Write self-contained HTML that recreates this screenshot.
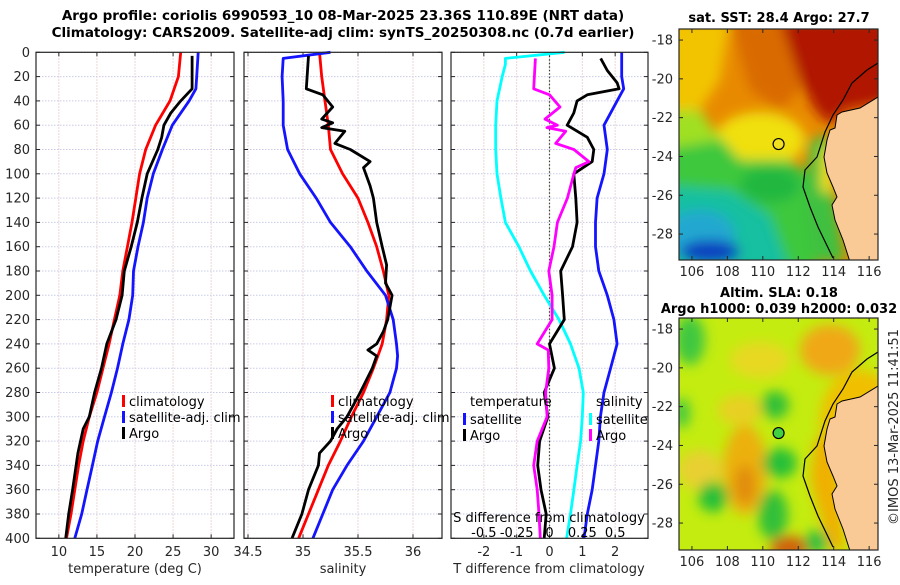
<!DOCTYPE html>
<html><head><meta charset="utf-8">
<style>
html,body{margin:0;padding:0;background:#fff;}
body{width:900px;height:580px;overflow:hidden;font-family:"Liberation Sans","DejaVu Sans",sans-serif;}
svg text{font-family:"DejaVu Sans","Liberation Sans",sans-serif;}
</style></head>
<body>
<svg id="fig" width="900" height="580" viewBox="0 0 900 580" xmlns="http://www.w3.org/2000/svg">
<defs>
<filter id="blur6" x="-20%" y="-20%" width="140%" height="140%"><feGaussianBlur stdDeviation="6"/></filter>
<clipPath id="clipM1"><rect x="679" y="29" width="199" height="231"/></clipPath>
<clipPath id="clipM2"><rect x="679" y="318" width="199" height="232"/></clipPath>
</defs>
<g id="titles">
<text x="343" y="20" text-anchor="middle" font-size="13.5" font-weight="bold" fill="#000">Argo profile: coriolis 6990593_10 08-Mar-2025 23.36S 110.89E (NRT data)</text>
<text x="343" y="37" text-anchor="middle" font-size="13.5" font-weight="bold" fill="#000">Climatology: CARS2009. Satellite-adj clim: synTS_20250308.nc (0.7d earlier)</text>
</g>
<g id="p1"></g>
<g id="p2"></g>
<g id="p3"></g>
<g id="m1"></g>
<g id="m2"></g>
<text transform="translate(898,427) rotate(-90)" text-anchor="middle" font-size="13" fill="#262626">©IMOS 13-Mar-2025 11:41:51</text>
</svg>
<script>
// ---- data ----
const depthTicks = [0,20,40,60,80,100,120,140,160,180,200,220,240,260,280,300,320,340,360,380,400];
const tempTicks = [10,15,20,25,30];
const salTicks = [34.5,35,35.5,36];
const salTickLabels = ["34.5","35","35.5","36"];
const dtTicks = [-2,-1,0,1,2];
const dsTicks = [-0.5,-0.25,0,0.25,0.5];
const dsTickLabels = ["-0.5","-0.25","0","0.25","0.5"];

const climDepth = [0,20,40,60,80,100,120,140,160,180,200,220,240,260,280,300,320,340,360,380,400];
const climTemp = [26.0,25.7,24.6,22.7,21.4,20.6,20.1,19.6,19.0,18.4,18.0,17.3,16.6,15.8,15.0,14.0,13.2,12.6,12.1,11.6,11.0];
const satTempDepth = [0,20,30,40,60,80,100,120,140,160,180,200,220,240,260,280,300,320,340,360,380,400];
const satTemp = [28.3,28.1,28.0,27.1,24.9,23.6,22.4,21.6,21.1,20.4,19.8,19.7,19.2,18.4,17.7,16.9,16.0,15.1,14.4,13.7,13.0,12.1];
const argoTempDepth = [3,30,40,50,60,70,80,100,120,140,160,180,200,220,240,260,280,300,310,330,360,380,400];
const argoTemp = [27.5,27.5,26.0,24.7,23.8,23.5,23.0,21.6,20.9,20.3,19.5,18.6,18.3,17.5,16.3,15.6,14.7,14.0,13.2,12.5,11.8,11.3,10.9];

const climSal = [35.15,35.17,35.2,35.23,35.25,35.36,35.5,35.59,35.67,35.73,35.78,35.76,35.72,35.64,35.55,35.44,35.34,35.23,35.14,35.05,34.96];
const satSalDepth = [0,5,20,40,60,80,100,120,140,160,180,200,220,240,250,260,280,300,320,340,360,380,400];
const satSal = [35.25,34.82,34.81,34.82,34.82,34.86,34.97,35.12,35.25,35.43,35.58,35.75,35.82,35.85,35.86,35.85,35.79,35.67,35.55,35.4,35.27,35.18,35.09];
const argoSalDepth = [3,30,35,45,55,58,62,65,75,80,90,95,110,120,140,160,175,190,200,220,230,240,245,250,260,280,300,310,320,330,340,360,380,400];
const argoSal = [35.05,35.03,35.18,35.27,35.17,35.27,35.17,35.38,35.29,35.43,35.61,35.55,35.61,35.64,35.67,35.72,35.76,35.75,35.81,35.77,35.73,35.67,35.59,35.67,35.63,35.52,35.4,35.31,35.25,35.15,35.14,35.05,34.99,34.9];

const satDTDepth = [0,20,30,40,60,80,100,120,140,160,180,200,220,240,260,280,300,320,340,360,380,400];
const satDT = [2.2,2.2,2.26,2.06,1.66,1.76,1.66,1.45,1.4,1.4,1.5,1.76,1.96,2.06,1.86,1.66,1.55,1.5,1.4,1.3,1.15,1.05];
const argoDTDepth = [5,15,25,30,35,40,50,60,70,80,90,100,120,140,160,180,200,220,240,260,280,300,320,340,360,380,400];
const argoDT = [1.56,1.76,2.06,2.12,1.15,0.84,0.74,0.54,1.15,1.35,1.3,0.74,0.8,0.84,0.7,0.34,0.4,0.45,0.0,0.15,-0.16,-0.05,-0.3,-0.36,-0.26,-0.1,-0.16];
const satDSDepth = [0,5,10,20,40,60,80,100,120,140,160,180,200,220,240,260,280,300,320,340,360,380,400];
const satDS = [0.115,-0.336,-0.336,-0.36,-0.40,-0.41,-0.41,-0.40,-0.37,-0.336,-0.233,-0.145,-0.04,0.072,0.16,0.225,0.257,0.25,0.237,0.21,0.186,0.16,0.13];
const argoDSDepth = [5,30,35,45,55,60,62,65,75,80,90,95,100,120,140,160,180,200,220,240,245,260,280,300,320,340,360,380,400];
const argoDS = [-0.107,-0.12,0.0,0.08,-0.034,0.06,-0.02,0.123,0.047,0.186,0.30,0.2,0.186,0.136,0.06,0.034,-0.005,0.02,0.02,-0.094,-0.01,-0.005,-0.03,-0.018,-0.094,-0.12,-0.094,-0.08,-0.07];

const mapLatTicks = [-18,-20,-22,-24,-26,-28];
const mapLonTicks = [106,108,110,112,114,116];
const argoLon = 110.89, argoLat = -23.36;

// ---- helpers ----
const NS = "http://www.w3.org/2000/svg";
function mk(parent, tag, attrs){ const e=document.createElementNS(NS,tag); for(const k in attrs) e.setAttribute(k,attrs[k]); parent.appendChild(e); return e; }
function txt(parent, x, y, s, size, anchor, extra){ const t=mk(parent,'text',Object.assign({x:x,y:y,'font-size':size,'text-anchor':anchor||'middle',fill:'#262626'},extra||{})); t.textContent=s; return t; }

const Y0=52.3, Y1=538.3;
const yD = d => Y0 + (d/400)*(Y1-Y0);
function linScale(d0,d1,r0,r1){ return v => r0 + (v-d0)/(d1-d0)*(r1-r0); }

function panelFrame(g, x0, x1, vticks, vx, labels, ylabels){
  depthTicks.forEach(d=>{ mk(g,'line',{x1:x0,x2:x1,y1:yD(d),y2:yD(d),stroke:'#c9cbe8','stroke-width':1,'stroke-dasharray':'1.5,1.5'}); });
  vticks.forEach(v=>{ mk(g,'line',{x1:vx(v),x2:vx(v),y1:Y0,y2:Y1,stroke:'#e6c9cb','stroke-width':1,'stroke-dasharray':'1.5,1.5'}); });
  depthTicks.forEach(d=>{
    mk(g,'line',{x1:x0,x2:x0+4,y1:yD(d),y2:yD(d),stroke:'#262626','stroke-width':1});
    mk(g,'line',{x1:x1,x2:x1-4,y1:yD(d),y2:yD(d),stroke:'#262626','stroke-width':1});
  });
  vticks.forEach((v,i)=>{
    mk(g,'line',{x1:vx(v),x2:vx(v),y1:Y1,y2:Y1-4,stroke:'#262626','stroke-width':1});
    mk(g,'line',{x1:vx(v),x2:vx(v),y1:Y0,y2:Y0+4,stroke:'#262626','stroke-width':1});
    const t=txt(g,vx(v),556,labels[i],13);
    
    
  });
  if(ylabels){
    depthTicks.forEach(d=>{
      const t=txt(g,30,yD(d)+4.5,String(d),13,'end');
      
      
    });
  }
}
function frameBox(g,x0,x1){ mk(g,'rect',{x:x0,y:Y0,width:x1-x0,height:Y1-Y0,fill:'none',stroke:'#262626','stroke-width':1.2}); }
function drawLine(g, xs, ds, sx, color, name){
  const pts = xs.map((v,i)=> sx(v).toFixed(1)+','+yD(ds[i]).toFixed(1)).join(' ');
  const p = mk(g,'polyline',{points:pts,fill:'none',stroke:color,'stroke-width':2.8,'stroke-linejoin':'round'});
  
  
  return p;
}
function legendEntry(g,x,y,color,label,name){
  const r=mk(g,'rect',{x:x,y:y-6,width:3,height:12,fill:color});
  const t=txt(g,x+7,y+5,label,13,'start',{fill:'#000'});
  
  
  
  
}

// ---- panel 1: temperature ----
const g1=document.getElementById('p1');
const sxT=linScale(7,33,36,234);
panelFrame(g1,36,234,tempTicks,sxT,tempTicks.map(String),true);
drawLine(g1,climTemp,climDepth,sxT,'#ff0000','climatology-temp-line');
drawLine(g1,satTemp,satTempDepth,sxT,'#1414ff','satellite-temp-line');
drawLine(g1,argoTemp,argoTempDepth,sxT,'#000','argo-temp-line');
frameBox(g1,36,234);
legendEntry(g1,122,401,'#ff0000','climatology','legend-climatology');
legendEntry(g1,122,417,'#1414ff','satellite-adj. clim','legend-satellite');
legendEntry(g1,122,433,'#000','Argo','legend-argo');
txt(g1,135,573,'temperature (deg C)',13);

// ---- panel 2: salinity ----
const g2=document.getElementById('p2');
const sxS=linScale(35,36,303,413);
panelFrame(g2,244,442,salTicks,sxS,salTickLabels,false);
drawLine(g2,climSal,climDepth,sxS,'#ff0000','climatology-sal-line');
drawLine(g2,satSal,satSalDepth,sxS,'#1414ff','satellite-sal-line');
drawLine(g2,argoSal,argoSalDepth,sxS,'#000','argo-sal-line');
frameBox(g2,244,442);
legendEntry(g2,331,401,'#ff0000','climatology','legend-climatology');
legendEntry(g2,331,417,'#1414ff','satellite-adj. clim','legend-satellite');
legendEntry(g2,331,433,'#000','Argo','legend-argo');
txt(g2,343,573,'salinity',13);

// ---- panel 3: differences ----
const g3=document.getElementById('p3');
const sxDT=linScale(-3,3,451,648);
const sxDS=linScale(-0.75,0.75,451,648);
panelFrame(g3,451,648,dtTicks,sxDT,dtTicks.map(String),false);
mk(g3,'line',{x1:sxDT(0),x2:sxDT(0),y1:Y0,y2:Y1,stroke:'#334433','stroke-width':1.2,'stroke-dasharray':'1.5,2'});
drawLine(g3,satDS,satDSDepth,sxDS,'#00ffff','satellite-sal-diff-line');
drawLine(g3,satDT,satDTDepth,sxDT,'#1414ff','satellite-temp-diff-line');
drawLine(g3,argoDT,argoDTDepth,sxDT,'#000','argo-temp-diff-line');
drawLine(g3,argoDS,argoDSDepth,sxDS,'#ff00ff','argo-sal-diff-line');
frameBox(g3,451,648);
txt(g3,470,406,'temperature',13,'start',{fill:'#000'});
legendEntry(g3,463,419,'#1414ff','satellite','legend-temp-satellite');
legendEntry(g3,463,435,'#000','Argo','legend-temp-argo');
txt(g3,596,406,'salinity',13,'start',{fill:'#000'});
legendEntry(g3,589,419,'#00ffff','satellite','legend-sal-satellite');
legendEntry(g3,589,435,'#ff00ff','Argo','legend-sal-argo');
txt(g3,549,522,'S difference from climatology',13,'middle',{fill:'#000'});
dsTicks.forEach((v,i)=>{
  const t=txt(g3,sxDS(v),537,dsTickLabels[i],13,'middle',{fill:'#000'});
  
  
});
txt(g3,549,573,'T difference from climatology',13);

// ---- maps ----
const LON0=105.27, LON1=116.5;
function mapAxes(g, top, bottom, latTop){
  const mx=v=>679+(v-LON0)/(LON1-LON0)*199;
  const my=v=>top+(latTop-v)*19.4;
  mapLatTicks.forEach(v=>{
    mk(g,'line',{x1:679,x2:683,y1:my(v),y2:my(v),stroke:'#262626'});
    mk(g,'line',{x1:878,x2:874,y1:my(v),y2:my(v),stroke:'#262626'});
    const t=txt(g,673,my(v)+4.5,String(v),13,'end');
    
    
  });
  mapLonTicks.forEach(v=>{
    mk(g,'line',{x1:mx(v),x2:mx(v),y1:bottom,y2:bottom-4,stroke:'#262626'});
    mk(g,'line',{x1:mx(v),x2:mx(v),y1:top,y2:top+4,stroke:'#262626'});
    const t=txt(g,mx(v),bottom+16,String(v),13);
    
    
  });
  mk(g,'rect',{x:679,y:top,width:199,height:bottom-top,fill:'none',stroke:'#262626','stroke-width':1.2});
  return {mx,my};
}
const land1="878,97 860,108 842,112 837,115 835,128 830,130 827,140 824,157 827,173 833,187 837,197 832,205 835,220 843,240 850,262 878,262";
const coast1="878,63 867,70 852,83 843,100 833,115 825,132 817,157 805,170 803,187 810,207 818,227 833,258";
function shift(pts,dy){ return pts.split(' ').map(p=>{const [a,b]=p.split(',');return a+','+(+b+dy);}).join(' '); }

// SST map
const m1=document.getElementById('m1');
txt(m1,779,22,'sat. SST: 28.4 Argo: 27.7',13,'middle',{fill:'#000','font-weight':'bold'});
const c1=mk(m1,'g',{'clip-path':'url(#clipM1)'});
mk(c1,'rect',{x:679,y:29,width:199,height:231,fill:'#e88a00'});
const b1=mk(c1,'g',{filter:'url(#blur6)'});
[
 ['polygon','660,20 730,20 720,80 700,110 660,110','#f2c400'],
 ['polygon','730,20 790,20 800,90 780,110 750,90','#d96a00'],
 ['polygon','780,20 900,20 900,100 845,110 830,125 815,110 800,80','#b01500'],
 ['ellipse','760,140,45,28','#f0e010'],
 ['polygon','660,110 700,115 740,160 790,160 815,180 815,280 660,280','#3cc83c'],
 ['polygon','660,110 700,110 720,140 660,150','#a0e020'],
 ['ellipse','770,185,30,18','#20b840'],
 ['polygon','660,185 730,190 770,215 790,270 660,270','#18c0a0'],
 ['ellipse','700,235,35,25','#20a8d0'],
 ['ellipse','710,252,30,12','#1040c0'],
 ['polygon','810,140 830,135 835,200 845,262 815,262 805,200','#40c040'],
 ['polygon','822,150 835,140 832,195 820,190','#f0e020']
].forEach(s=>{
  if(s[0]==='polygon') mk(b1,'polygon',{points:s[1],fill:s[2]});
  else { const [cx,cy,rx,ry]=s[1].split(',').map(Number); mk(b1,'ellipse',{cx,cy,rx,ry,fill:s[2]}); }
});
mk(c1,'polygon',{points:land1,fill:'#f9c996'});
mk(c1,'polyline',{points:coast1,fill:'none',stroke:'#000','stroke-width':1.2});
mk(c1,'polyline',{points:land1.split(' ').slice(0,15).join(' '),fill:'none',stroke:'#000','stroke-width':1});
const a1=mapAxes(m1,29,260,-17.43);
const dot1=mk(m1,'circle',{cx:a1.mx(argoLon),cy:a1.my(argoLat),r:5.5,fill:'#f0e020',stroke:'#000','stroke-width':1.2});



// SLA map
const m2=document.getElementById('m2');
txt(m2,779,297,'Altim. SLA: 0.18',13,'middle',{fill:'#000','font-weight':'bold'});
txt(m2,779,313,'Argo h1000: 0.039 h2000: 0.032',13,'middle',{fill:'#000','font-weight':'bold'});
const c2=mk(m2,'g',{'clip-path':'url(#clipM2)'});
mk(c2,'rect',{x:679,y:318,width:199,height:232,fill:'#c4ec10'});
const b2=mk(c2,'g',{filter:'url(#blur6)'});
[
 ['ellipse','830,350,30,25','#f0a818'],
 ['ellipse','860,420,40,50','#f0c000'],
 ['ellipse','760,360,30,18','#e8d820'],
 ['ellipse','745,470,22,45','#ecb010'],
 ['ellipse','745,485,10,20','#e08a10'],
 ['ellipse','790,548,20,12','#d06010'],
 ['ellipse','740,410,22,15','#e8d020'],
 ['ellipse','700,470,22,20','#e8d030'],
 ['ellipse','690,340,15,25','#40c840'],
 ['ellipse','682,413,8,15','#40c840'],
 ['ellipse','775,405,14,14','#30c038'],
 ['ellipse','780,463,17,15','#28c038'],
 ['ellipse','713,497,15,15','#28c038'],
 ['ellipse','773,515,15,25','#30c038'],
 ['ellipse','817,542,12,12','#20c040'],
 ['polygon','815,440 835,430 845,550 830,550 810,480','#f0b000']
].forEach(s=>{
  if(s[0]==='polygon') mk(b2,'polygon',{points:s[1],fill:s[2]});
  else { const [cx,cy,rx,ry]=s[1].split(',').map(Number); mk(b2,'ellipse',{cx,cy,rx,ry,fill:s[2]}); }
});
mk(c2,'polygon',{points:shift(land1,289),fill:'#f9c996'});
mk(c2,'polyline',{points:shift(coast1,289),fill:'none',stroke:'#000','stroke-width':1.2});
mk(c2,'polyline',{points:shift(land1.split(' ').slice(0,15).join(' '),289),fill:'none',stroke:'#000','stroke-width':1});
const a2=mapAxes(m2,318,550,-17.43);
const dot2=mk(m2,'circle',{cx:a2.mx(argoLon),cy:a2.my(argoLat),r:5.5,fill:'#40d040',stroke:'#000','stroke-width':1.2});


</script>
</body></html>
